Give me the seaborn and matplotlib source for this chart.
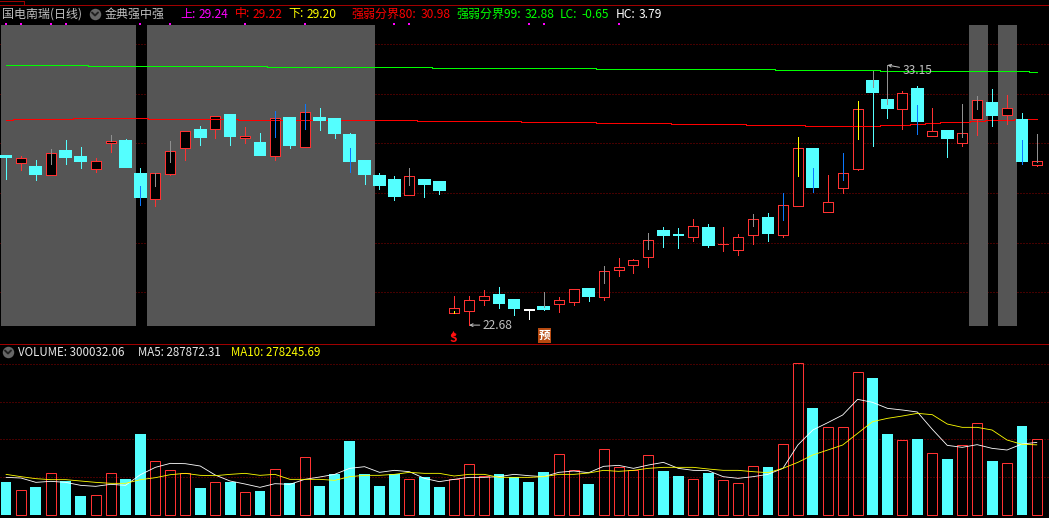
import pandas as pd
import seaborn as sns
import matplotlib
matplotlib.use("Agg")
import matplotlib.pyplot as plt

# daily candles, index 0 is the oldest day on screen
opens = [29.49, 29.21, 29.05, 28.72, 29.69, 29.45, 28.96, 30.01, 30.09, 28.76,
         27.76, 28.76, 29.81, 30.53, 30.58, 31.14, 30.21, 30.01, 29.49, 31.02,
         29.85, 31.02, 30.98, 30.33, 29.29, 28.68, 28.52, 27.92, 28.52, 28.44,
         23.17, 23.25, 23.69, 23.89, 23.69, 23.29, 23.41, 23.53, 23.61, 24.13,
         23.81, 24.90, 25.10, 25.42, 26.47, 26.31, 26.23, 26.59, 25.94, 25.70,
         26.31, 26.99, 26.31, 27.47, 29.77, 27.23, 28.20, 28.96, 32.51, 31.74,
         31.38, 32.19, 30.29, 30.49, 30.01, 30.98, 31.62, 31.14, 30.94, 29.13]
highs = [29.49, 29.49, 29.33, 29.77, 30.13, 29.85, 29.41, 30.33, 30.17, 29.00,
         28.80, 30.09, 30.49, 30.70, 31.10, 31.18, 30.66, 30.41, 31.30, 31.02,
         31.58, 31.42, 30.98, 30.41, 29.29, 28.80, 28.68, 29.00, 28.52, 28.48,
         23.85, 23.85, 24.09, 24.21, 23.73, 23.33, 24.01, 23.81, 24.13, 24.13,
         25.06, 25.38, 25.34, 26.39, 26.63, 26.59, 26.95, 26.75, 26.63, 26.35,
         27.15, 27.19, 28.00, 30.25, 29.77, 28.72, 29.61, 31.70, 32.91, 33.15,
         32.11, 32.31, 31.42, 30.49, 31.58, 31.90, 32.19, 31.94, 31.22, 30.37]
lows = [28.56, 28.92, 28.52, 28.72, 29.17, 29.00, 28.84, 29.65, 29.05, 27.51,
        27.47, 28.72, 29.33, 29.93, 30.21, 29.93, 30.01, 29.53, 29.33, 29.81,
        29.85, 30.53, 30.21, 28.84, 28.36, 28.16, 27.72, 27.92, 27.84, 27.96,
        23.17, 22.68, 23.49, 23.37, 23.09, 22.92, 23.29, 23.21, 23.49, 23.65,
        23.69, 24.66, 24.78, 25.02, 25.82, 25.78, 26.07, 25.82, 25.66, 25.50,
        25.94, 26.07, 26.23, 27.47, 28.04, 27.23, 28.00, 28.92, 29.89, 31.02,
        30.58, 30.37, 30.29, 29.45, 29.89, 30.33, 30.70, 30.78, 29.17, 29.09]
closes = [29.45, 29.41, 28.76, 29.61, 29.45, 29.29, 29.29, 30.09, 29.05, 27.84,
          28.80, 29.69, 30.49, 30.25, 31.10, 30.29, 30.29, 29.53, 31.02, 29.93,
          31.26, 30.94, 30.41, 29.29, 28.76, 28.32, 27.88, 28.68, 28.36, 28.12,
          23.37, 23.69, 23.85, 23.57, 23.37, 23.29, 23.33, 23.69, 24.13, 23.85,
          24.86, 25.02, 25.30, 26.11, 26.31, 26.30, 26.67, 25.90, 25.95, 26.23,
          26.95, 26.39, 27.51, 29.81, 28.24, 27.64, 28.80, 31.38, 32.07, 31.42,
          32.02, 30.90, 30.49, 30.21, 30.41, 31.74, 31.14, 31.42, 29.29, 29.29]

line_80 = [30.93, 30.97, 30.97, 30.97, 30.97, 31.01, 31.01, 31.01, 31.01, 31.01,
           30.97, 30.97, 30.97, 30.97, 30.97, 30.97, 30.93, 30.93, 30.93, 30.93,
           30.93, 30.93, 30.93, 30.93, 30.93, 30.93, 30.93, 30.93, 30.89, 30.89,
           30.89, 30.89, 30.89, 30.89, 30.89, 30.85, 30.85, 30.85, 30.85, 30.85,
           30.80, 30.80, 30.80, 30.80, 30.80, 30.76, 30.76, 30.76, 30.76, 30.76,
           30.72, 30.72, 30.72, 30.72, 30.68, 30.68, 30.68, 30.68, 30.68, 30.72,
           30.72, 30.76, 30.80, 30.85, 30.85, 30.89, 30.93, 30.93, 30.97, 30.97]
line_99 = [33.14, 33.14, 33.14, 33.14, 33.14, 33.14, 33.10, 33.10, 33.10, 33.10,
           33.10, 33.10, 33.10, 33.10, 33.10, 33.10, 33.10, 33.10, 33.06, 33.06,
           33.06, 33.06, 33.06, 33.06, 33.06, 33.06, 33.06, 33.06, 33.06, 33.02,
           33.02, 33.02, 33.02, 33.02, 33.02, 33.02, 33.02, 33.02, 33.02, 33.02,
           32.98, 32.98, 32.98, 32.98, 32.98, 32.98, 32.98, 32.98, 32.98, 32.98,
           32.98, 32.98, 32.94, 32.94, 32.94, 32.94, 32.94, 32.94, 32.94, 32.90,
           32.90, 32.90, 32.90, 32.90, 32.90, 32.90, 32.90, 32.90, 32.90, 32.87]

# thousands of shares
volume = [130.8, 97.8, 111.0, 165.2, 134.8, 75.3, 78.0, 165.2, 142.7, 321.2,
          212.8, 177.1, 165.2, 107.0, 129.5, 130.8, 89.9, 95.2, 181.1, 126.9,
          228.6, 115.0, 162.6, 293.4, 162.6, 115.0, 162.6, 141.4, 150.7, 111.0,
          141.4, 200.9, 153.3, 162.6, 150.7, 130.8, 170.5, 240.5, 177.1, 122.9,
          260.4, 189.0, 178.4, 236.6, 174.5, 154.6, 141.4, 166.5, 137.4, 125.6,
          193.0, 190.3, 280.2, 601.3, 424.2, 347.6, 347.6, 565.6, 543.2, 321.2,
          296.0, 301.3, 244.5, 222.0, 276.2, 363.4, 214.1, 204.8, 352.9, 300.0]
ma5 = [149.3, 146.7, 129.5, 133.5, 129.5, 117.6, 113.7, 121.6, 117.6, 159.9,
       189.0, 204.8, 203.5, 194.3, 158.6, 134.8, 122.9, 109.7, 124.2, 121.6,
       141.4, 150.7, 161.2, 185.0, 191.6, 169.2, 177.1, 171.8, 145.4, 132.2,
       141.4, 149.3, 149.3, 152.0, 161.2, 155.9, 152.0, 169.2, 174.5, 167.8,
       193.0, 196.9, 185.0, 198.2, 208.8, 185.0, 177.1, 175.8, 152.0, 145.4,
       152.0, 161.2, 185.0, 277.5, 337.0, 366.1, 396.5, 458.6, 446.7, 422.9,
       416.3, 408.4, 339.7, 276.2, 268.3, 278.9, 264.3, 257.7, 281.5, 287.9]
ma10 = [161.2, 152.0, 144.1, 140.1, 140.1, 134.8, 129.5, 125.6, 125.6, 140.1,
        148.0, 159.9, 165.2, 157.3, 155.9, 161.2, 165.2, 157.3, 161.2, 141.4,
        141.4, 141.4, 137.4, 152.0, 157.3, 157.3, 161.2, 169.2, 165.2, 165.2,
        154.6, 161.2, 161.2, 149.3, 149.3, 149.3, 152.0, 161.2, 161.2, 166.5,
        177.1, 173.1, 177.1, 185.0, 189.0, 189.0, 189.0, 182.4, 177.1, 177.1,
        171.8, 167.8, 185.0, 208.8, 237.9, 257.7, 277.5, 323.8, 370.0, 383.3,
        392.5, 403.1, 397.8, 360.8, 347.6, 347.6, 337.0, 297.4, 280.2, 278.2]

# coloured sticks drawn over some candles
grey_days = [3, 7, 10, 11, 27, 36, 40, 43, 50, 58, 59, 64, 65, 69]
grey_tops = [29.77, 30.33, 28.80, 30.09, 29.00, 24.01, 25.06, 26.39, 27.15, 32.91, 33.15, 31.58, 31.90, 30.37]
grey_ends = [29.17, 30.09, 28.28, 29.25, 28.32, 23.41, 24.37, 25.74, 26.67, 32.27, 31.58, 30.25, 31.38, 29.25]
blue_days = [9, 18, 20, 23, 52, 54, 56, 61, 68]
blue_tops = [28.28, 31.30, 31.58, 29.81, 28.00, 29.00, 29.61, 31.54, 30.13]
blue_ends = [27.51, 30.25, 30.58, 28.84, 26.91, 28.04, 28.52, 30.37, 29.17]
yellow_days = [30, 53, 57]
yellow_tops = [23.25, 30.25, 31.70]
yellow_ends = [23.17, 28.68, 30.17]

signal_days = [0, 1, 3, 4, 9, 11, 16, 20, 26, 27, 35, 36, 41]
signal_level = 34.80
grey_bands = [(-0.33, 8.70), (9.44, 24.70), (64.46, 65.74), (66.40, 67.67)]
price_grid = [24, 26, 28, 30, 32, 34]
volume_grid = [150, 300, 450, 600]

RED = "#ff3232"
CYAN = "#54ffff"
DARK_RED = "#a00000"
DOT_RED = "#8c0000"
PX = 0.72  # one pixel in points at dpi 100
THIN = 0.5
DOTS = (0, (1, 2))
CJK = ["Noto Sans CJK SC", "DejaVu Sans"]

sns.set_theme(style="dark", rc={"figure.facecolor": "black", "axes.facecolor": "black",
                                "savefig.facecolor": "black"})
plt.rcParams["font.family"] = CJK

df = pd.DataFrame({"day": range(len(opens)), "open": opens, "high": highs, "low": lows,
                   "close": closes, "line_80": line_80, "line_99": line_99,
                   "volume": volume, "ma5": ma5, "ma10": ma10})
up = df[df["close"] > df["open"]]
down = df[df["close"] < df["open"]]
flat = df[df["close"] == df["open"]]

fig = plt.figure(figsize=(10.49, 5.18), dpi=100)
ax = fig.add_axes([0, 175 / 518, 1, 339 / 518])
ax_vol = fig.add_axes([0, 1 / 518, 1, 174 / 518])
for a in (ax, ax_vol):
    a.set_xlim(-0.40, 69.81)
    a.set_xticks([])
    a.set_yticks([])
    sns.despine(ax=a, left=True, bottom=True)
ax.set_ylim(21.96, 35.61)

for level in price_grid:
    ax.axhline(level, color=DOT_RED, lw=PX, ls=DOTS, zorder=1)
for left, right in grey_bands:
    ax.axvspan(left, right, ymin=17 / 339, ymax=318 / 339, color="#555555", lw=0, zorder=2)

# hollow bodies go under the two level lines, wicks and cyan bodies over them
ax.bar(up["day"], up["close"] - up["open"], bottom=up["open"], width=0.67, facecolor="black",
       edgecolor=RED, lw=PX * 0.9, antialiased=False, zorder=2.5)
sns.lineplot(data=df, x="day", y="line_99", ax=ax, color="#00ff00", lw=PX, estimator=None,
             drawstyle="steps-mid", antialiased=False, zorder=3)
sns.lineplot(data=df, x="day", y="line_80", ax=ax, color="#ff0000", lw=PX, estimator=None,
             drawstyle="steps-mid", antialiased=False, zorder=3)

ax.vlines(up["day"], up["close"], up["high"], colors=RED, lw=PX, antialiased=False, zorder=4)
ax.vlines(up["day"], up["low"], up["open"], colors=RED, lw=PX, antialiased=False, zorder=4)
ax.vlines(down["day"], down["low"], down["high"], colors=CYAN, lw=PX, antialiased=False, zorder=4)
ax.vlines(flat["day"], flat["low"], flat["high"], colors="white", lw=PX, antialiased=False, zorder=4)
ax.bar(down["day"], down["open"] - down["close"], bottom=down["close"], width=0.72,
       facecolor=CYAN, edgecolor=CYAN, lw=0.3, antialiased=False, zorder=5)
ax.bar(flat["day"], 0.02, bottom=flat["close"], width=0.67, color="white", lw=THIN,
       edgecolor="white", antialiased=False, zorder=5)

ax.vlines(grey_days, grey_ends, grey_tops, colors="#909090", lw=PX, antialiased=False, zorder=6)
ax.vlines(blue_days, blue_ends, blue_tops, colors="#0a78ff", lw=PX, antialiased=False, zorder=6)
ax.vlines(yellow_days, yellow_ends, yellow_tops, colors="#ffff00", lw=PX, antialiased=False, zorder=6)
ax.scatter(signal_days, [signal_level] * len(signal_days), marker="s", s=4, color="#ff00ff",
           lw=0, zorder=6)
ax.set_xlabel("")
ax.set_ylabel("")

ax.annotate("22.68", xy=(31, 22.68), xytext=(10, 0), textcoords="offset points", color="#c0c0c0",
            fontsize=8.64, va="center", arrowprops=dict(arrowstyle="->", color="#c0c0c0", lw=PX,
                                                         mutation_scale=5, shrinkA=0, shrinkB=0))
ax.annotate("33.15", xy=(59, 33.15), xytext=(11, -4), textcoords="offset points", color="#c0c0c0",
            fontsize=8.64, va="center", arrowprops=dict(arrowstyle="->", color="#c0c0c0", lw=PX,
                                                         mutation_scale=5, shrinkA=0, shrinkB=0))

for level in volume_grid:
    ax_vol.axhline(level, color=DOT_RED, lw=PX, ls=DOTS, zorder=0)
sns.barplot(data=up, x="day", y="volume", ax=ax_vol, native_scale=True, fill=False, color=RED,
            width=0.67, linewidth=PX, errorbar=None, zorder=2)
sns.barplot(data=pd.concat([down, flat]).sort_values("day"), x="day", y="volume", ax=ax_vol,
            native_scale=True, color=CYAN, saturation=1, width=0.73, linewidth=0, errorbar=None, zorder=2)
sns.lineplot(data=df, x="day", y="ma5", ax=ax_vol, color="white", lw=0.6, estimator=None, zorder=3)
sns.lineplot(data=df, x="day", y="ma10", ax=ax_vol, color="#ffff00", lw=0.6, estimator=None, zorder=3)
ax_vol.set_xlim(-0.40, 69.81)
ax_vol.set_ylim(-7.9, 682)
ax_vol.set_xlabel("")
ax_vol.set_ylabel("")
ax_vol.set_xticks([])
ax_vol.set_yticks([])

# header texts, borders and the small icons, placed in screen pixels
over = fig.add_axes([0, 0, 1, 1], facecolor="none", zorder=10)
over.set_xlim(0, 1049)
over.set_ylim(518, 0)
over.axis("off")
for y_line in (4.5, 343.5, 517.5):
    over.plot([0, 1049], [y_line, y_line], color=DARK_RED, lw=PX, antialiased=False)
over.plot([0, 23.5, 23.5], [0.5, 0.5, 4.5], color=DARK_RED, lw=PX, antialiased=False)

header = [(2, "国电南瑞(日线)", "#c0c0c0"), (105, "金典强中强", "#c0c0c0"),
          (180, "上:", "#ff00ff"), (199, "29.24", "#ff00ff"),
          (235, "中:", "#ff0000"), (253, "29.22", "#ff0000"),
          (288, "下:", "#ffff00"), (307, "29.20", "#ffff00"),
          (351, "强弱分界80:", "#ff0000"), (421, "30.98", "#ff0000"),
          (456, "强弱分界99:", "#00ff00"), (525, "32.88", "#00ff00"),
          (560, "LC:", "#00ff00"), (581, "-0.65", "#00ff00"),
          (616, "HC:", "#ffffff"), (639, "3.79", "#ffffff")]
for x_text, label, colour in header:
    over.text(x_text, 14, label, color=colour, fontsize=8.64, va="center", ha="left")
volume_head = [(18, "VOLUME: 300032.06", "#e8e8e8"), (138, "MA5: 287872.31", "#e8e8e8"),
               (231, "MA10: 278245.69", "#ffff00")]
for x_text, label, colour in volume_head:
    over.text(x_text, 352, label, color=colour, fontsize=8.3, va="center", ha="left")

for x_icon, y_icon in ((95, 14), (8, 352)):
    over.scatter(x_icon, y_icon, s=68, color="#666666", lw=0)
    over.plot([x_icon - 3, x_icon, x_icon + 3], [y_icon - 1.5, y_icon + 1.5, y_icon - 1.5],
              color="#222222", lw=1.4)

# sell and forecast badges under the low
over.text(453, 339, "S", color="#ff1010", fontsize=8.5, fontweight="bold", ha="center", va="center")
over.scatter(453, 332.5, marker="^", s=14, color="#ff1010", lw=0)
over.text(544.5, 335.5, "预", color="white", fontsize=8.3, fontweight="bold", ha="center", va="center",
          bbox=dict(boxstyle="square,pad=0.06", facecolor="#b84a10", edgecolor="none"))

fig.savefig("out.png", dpi=100)
